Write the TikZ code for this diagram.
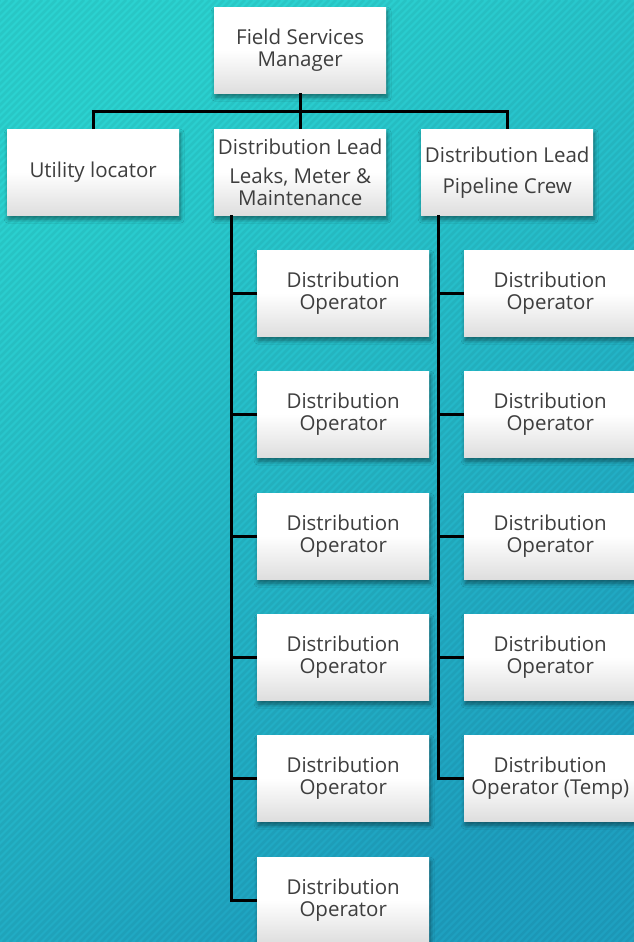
\documentclass[tikz,border=0pt]{standalone}
\usepackage{fontspec}
\setmainfont{Open Sans}
\usetikzlibrary{shadows.blur}
\definecolor{bgtop}{RGB}{43,210,208}
\definecolor{bgbot}{RGB}{30,160,192}
\definecolor{txt}{RGB}{62,62,62}
\definecolor{boxbot}{RGB}{222,222,222}
\begin{document}
\begin{tikzpicture}[x=1pt,y=-1pt,
  box/.style={minimum width=172pt, minimum height=86pt, inner sep=0pt,
    anchor=north west, align=center, text=txt,
    font=\fontsize{20.5}{22}\selectfont,
    top color=white, bottom color=boxbot, middle color=white,
    blur shadow={shadow xshift=1pt, shadow yshift=-4pt, shadow opacity=45,
      shadow blur steps=6, shadow blur radius=4pt}},
  conn/.style={line width=3pt, black}]
\useasboundingbox (0,0) rectangle (634,942);
% background
\shade[top color=bgtop, bottom color=bgbot, shading angle=35] (0,0) rectangle (634,942);
\begin{scope}
  \clip (0,0) rectangle (634,942);
  \foreach \c in {0,7,...,1582}
    \draw[black, opacity=0.05, line width=2.5pt] (\c,0) -- (\c-942,942);
\end{scope}
% nodes
\node[box] (mgr) at (214,7) {Field Services\\Manager};
\node[box] (util) at (7,129) {Utility locator};
\node[box] (leadA) at (214,129) {Distribution Lead\\[7pt]Leaks, Meter \&\\Maintenance};
\node[box] (leadB) at (421,129) {Distribution Lead\\[9pt]Pipeline Crew};
\node[box] (a1) at (257,250) {Distribution\\Operator};
\node[box] (a2) at (257,371) {Distribution\\Operator};
\node[box] (a3) at (257,493) {Distribution\\Operator};
\node[box] (a4) at (257,614) {Distribution\\Operator};
\node[box] (a5) at (257,735) {Distribution\\Operator};
\node[box] (a6) at (257,857) {Distribution\\Operator};
\node[box] (b1) at (464,250) {Distribution\\Operator};
\node[box] (b2) at (464,371) {Distribution\\Operator};
\node[box] (b3) at (464,493) {Distribution\\Operator};
\node[box] (b4) at (464,614) {Distribution\\Operator};
\node[box] (b5) at (464,735) {Distribution\\Operator (Temp)};
% connectors
\coordinate (bus) at (300,111);
\draw[conn] (util.north) -- (util.north |- bus) -- (leadB.north |- bus) -- (leadB.north);
\draw[conn] (mgr.south) -- (leadA.north);
\coordinate (ta) at ([xshift=17pt]leadA.south west);
\coordinate (tb) at ([xshift=17pt]leadB.south west);
\draw[conn] (ta) |- (a6.west);
\draw[conn] (tb) |- (b5.west);
\foreach \n in {a1,a2,a3,a4,a5}
  \draw[conn] (\n.west) -- (\n.west -| ta);
\foreach \n in {b1,b2,b3,b4}
  \draw[conn] (\n.west) -- (\n.west -| tb);
\end{tikzpicture}
\end{document}
